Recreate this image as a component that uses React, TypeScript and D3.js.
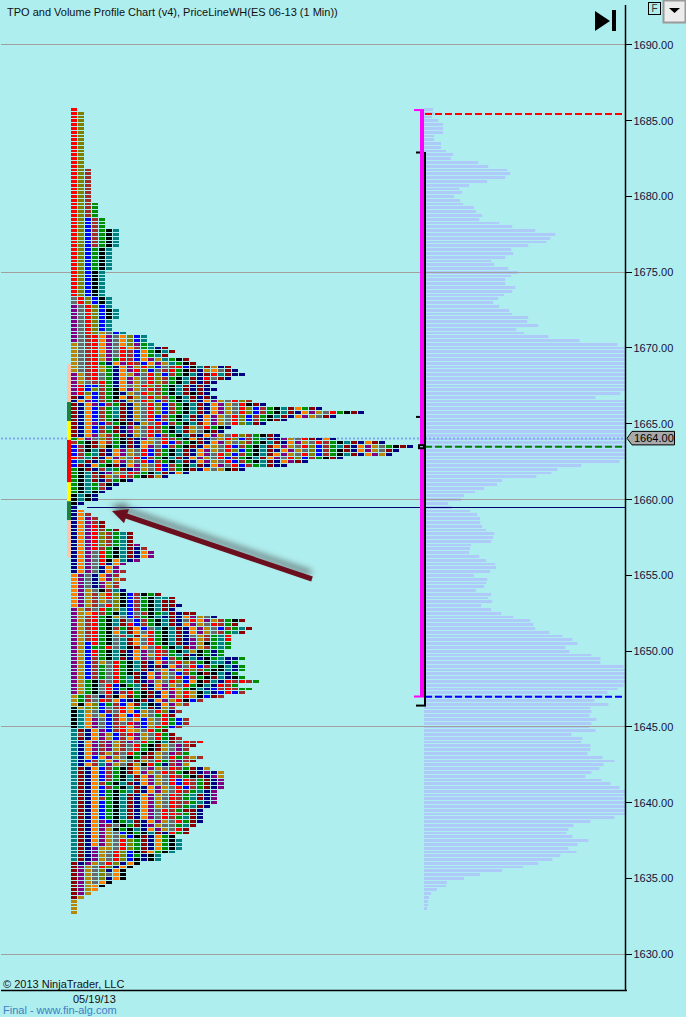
import * as d3 from 'd3';
import React, { useEffect, useRef } from 'react';

const priceTicks = [1690, 1685, 1680, 1675, 1670, 1665, 1660, 1655, 1650, 1645, 1640, 1635, 1630];
const gridPrices = [1690, 1675, 1660, 1645, 1630];
const topRowPrice = 1685.75;
const tickSize = 0.25;
const lastPrice = 1664;

// one letter per period, time order left to right
const periodColors: Record<string, string> = {
    m: '#8b0000',
    n: '#000080',
    a: '#ff8000',
    p: '#800080',
    d: '#b8860b',
    y: '#696969',
    r: '#ff0000',
    o: '#808000',
    u: '#0000ff',
    b: '#a52a2a',
    g: '#008f00',
    k: '#000000',
    t: '#008080',
};

// TPO letters, one string per price row from the top
const tpoRows = [
    'r', 'ro', 'ro', 'ro', 'ro', 'ro', 'ro', 'ro', 'ro', 'ro', 'ro', 'ro', 'ro', 'ro', 'ro', 'ro',
    'rob', 'rob', 'rob', 'rob', 'rob', 'rob', 'rob', 'rob', 'rob',
    'robg', 'robg', 'robg', 'robg',
    'roubg', 'roubg', 'roubg',
    'roubgkt', 'roubgkt', 'roubgkt', 'roubgkt', 'roubgkt',
    'rougkt', 'rougkt', 'rougkt', 'rougkt', 'rougkt', 'rougkt',
    'roukt', 'roukt', 'roukt', 'roukt', 'roukt', 'roukt', 'roukt',
    'yroukt', 'yroukt', 'pyrout', 'pyroukt', 'pyroukt', 'pyroukt', 'pyrout', 'pyrout', 'pyrout',
    'pyrodyut',
    'pybrapyaout',
    'pybrapyaout',
    'dybrapyaopgt',
    'dybrapyrabgtnm',
    'dybrapyrbuagktm',
    'dybrdpyrbuagtm',
    'dybrdpgrbuapdtgkm',
    'dybrgnaprbuapdtgkm',
    'dybrdgnapdrouybruktmdnm',
    'dybrdgnaprouybrgkmndaymn',
    'pdbrygnadpyroubgktnmrtmnn',
    'pdbrygnapdyrobgktmnrymn',
    'pdybrgnapdyrobgktmnmn',
    'pruubgnaydrobgktmnmn',
    'pruobgkapdyrbgktmnmnn',
    'proubgkndyrobgktmkmn',
    'mnaubgkamdyrobgktmnmn',
    'napubgmndyroubgktmnapdyrob',
    'mnapubgmndyroubgktmnapdyrkmn',
    'mnaubgtmndyroubgktmnapdyroubgktmagmn',
    'mnaubgtmndyroubgktmnapdyroubgktmnapdyrgkmn',
    'mnaubgtmndyrubgktmnapdyroubgktmnapdymn',
    'mnaubgkmndyrubgktmnapdyroubgkmn',
    'mnapubgkmndyrubgktmapdyrotmn',
    'mnaubtmnpdyrbgktmdyrgkn',
    'mnaubgmnpdyrbgktmdykmn',
    'mnapdbgmndyrubgktmnapdyrobgkmn',
    'gapyobgkmnpdyrbgkamnydroubgtmnpdyrmnan',
    'bgkmabgkmnadyrubgkmnapdyobgktmnapdyrbgktmnamn',
    'ubkmdkgnmnapyubgkmnadyrubgktmapdyroubgtmnapdygkmn',
    'ubktmnapdyrubgktmnapdyrougktmnapdyoubgkmnapdymn',
    'ubgtmnapdyrubgktmnapyroubgktmapdyroubgktmnapdn',
    'rbtmnapdyrubgktmnapdyrubgktmapyroubgkmn',
    'utmnbgapdyrubgktmnapdyrubgktmnapmn',
    'umnagkmnapdyrubgktmnapyrubgtmnn',
    'gkmnbtgmnpdyrubgkmnaydkmn',
    'gktmnpdyrbgktmnan',
    'gktbmdyrbgkmdn',
    'gktmnbgkn',
    'gktgbkn',
    'gktgbn',
    'gktkn',
    'ktkn',
    'ktkn',
    'kn',
    'n',
    'na',
    'nab',
    'napb',
    'napbm',
    'naprm',
    'naprbgm',
    'naprobgtm',
    'naprobgtm',
    'naprobgtm',
    'naprobgtmp',
    'naprbgktmnb',
    'napyrgktmnap',
    'napyrgktmnap',
    'napyrkatnp',
    'napyrnap',
    'napynap',
    'napynapb',
    'apynapb',
    'apynapdb',
    'apynpdb',
    'apynpdb',
    'apdykbtn',
    'apdbdrokubkgm',
    'apdbdrokubgkttm',
    'apdbdyokubgktmm',
    'apdbyrokubgktmmn',
    'pdbyrgotubgktmn',
    'pdarbgktuybkgtmnmm',
    'pdbrgkdyubgktnmnapdyn',
    'pdbrgktmyubgktmnyrapdbgkm',
    'pdbrgktmrubgktmnapdyrbgm',
    'pdbrgkbgmauytktmnapdyubgtm',
    'pdbrgkatmayrgktmnapdybgtm',
    'pdbrgkybtmabgktmnydbgtr',
    'pdbrgkytmayrgktmnpdbgtr',
    'pdurgkytmayrgktmnpdkgtg',
    'pduggrytkmayrgktmpdbgtg',
    'pdurgktmnapyrbgktdkgng',
    'pdurgktknapdrbgtmnkgng',
    'pdubgktmnapyrubgktnkgtnng',
    'pdubdyrgktmnapyrobgkttng',
    'pdubgyrgktmnmnapyrubgktng',
    'pdubgyrgktmnyapdrobgkktng',
    'pdubgyrgkmnapdyubgkmktng',
    'pdubgyrgtmnapdyrubgkmtnkg',
    'pdgkbyrgtmnpdyrouakmtnrbrbg',
    'pdgkyrukgtmnapdyrgktnrbg',
    'pdgkyrugktmnaprdgktnubrbgg',
    'pdgkyrnbrgkmnapdrdktnurub',
    'dgbynbkamgkmnapdrdkumb',
    'dgbyrbaunkmnapdrkub',
    'dkaougbuamtknapdb',
    'kdoouybragtmndb',
    'ktdyubyraudyronb',
    'ktaydubaurdygrm',
    'ktapyubayaudyrgub',
    'ktapyubyrpudyrgub',
    'ktapyubrapudrgub',
    'tmnapubradyrgm',
    'tbnapdubrpdyrgm',
    'tmnapdubapdyrgmb',
    'tnapbpdbpyrgktmyrbr',
    'tnapbpdbyrgkmdypbm',
    'tnapbpdbyrgkmdypb',
    'tnapbdbyrgkmdypbg',
    'tnauapdykgbmdyrgbdb',
    'tnubtapdymdyrgbpbm',
    'tnabtpdymdkrgnbpd',
    'tmnaubgkmaypdyrbgmnd',
    'tmnaubgkmapdyrbgkmnpnd',
    'tmnaubgktmapdyrbgkmnpd',
    'tmnaubgktmapdyrurbgmnp',
    'tmnabgktmnapdyrurbgmnp',
    'tmnaubgktmnapdyrubgmnp',
    'tmnaugkgtmnapdyrbgtnp',
    'tmnaugktmnapdyrbgtmnp',
    'tmnabgktmnapdyrbgtmnp',
    'tmnaugktmnapdyrbbgtnp',
    'tmnaugktmnapdyrbgtmn',
    'tmnaugktmnapyrbgmmn',
    'tmnaugktmnapyrrbgmn',
    'tmnaugktmnapyrbgtmn',
    'tmnapukgtmnapdyrgmn',
    'tmnapbykgmnpdyygtm',
    'tmnapdkgktnapdyrm',
    'tmnapdyukgktmnrgm',
    'tmnapdyoukmnagk',
    'tmnapdyrogmnagkt',
    'tmnapdyrogmnagkt',
    'tmnpddyrogmnagkt',
    'tmnpdyroukmagkt',
    'tmnpdyrougnkt',
    'tmnpdyrouknkt',
    'mnpdyronak',
    'mpdyronak',
    'mpdyonak',
    'mpdyoyak',
    'mpdyonak',
    'mpdyak',
    'mpdak',
    'mpda',
    'mpd',
    'md',
    'd', 'd', 'd', 'd',
];

// volume at each price row from the top
const volumeRows = [
    9, 10, 8, 14, 19, 19, 19, 10, 10, 17, 17, 22, 29, 27, 54, 64, 83, 86, 81, 63,
    45, 35, 38, 30, 36, 39, 50, 52, 58, 55, 75, 88, 111, 131, 126, 122, 104, 87, 89, 81,
    67, 70, 84, 94, 87, 81, 81, 91, 88, 80, 74, 69, 75, 85, 88, 104, 103, 114, 92, 100,
    124, 155, 193, 201, 201, 201, 201, 201, 201, 201, 201, 201, 201, 201, 201, 196, 171, 201, 201, 201,
    201, 201, 201, 201, 201, 201, 201, 201, 201, 201, 201, 201, 201, 195, 157, 133, 127, 112, 78, 73,
    60, 51, 40, 37, 24, 28, 46, 53, 56, 56, 58, 62, 70, 69, 67, 47, 46, 45, 55, 62,
    71, 72, 66, 50, 63, 62, 60, 52, 67, 64, 68, 57, 67, 77, 89, 106, 109, 111, 125, 138,
    148, 153, 141, 145, 167, 176, 176, 199, 201, 201, 201, 201, 199, 193, 183, 179, 170, 184, 166, 167,
    165, 172, 167, 165, 171, 147, 158, 157, 166, 166, 163, 178, 190, 179, 175, 167, 161, 177, 186, 195,
    201, 201, 199, 201, 201, 201, 201, 190, 166, 149, 144, 142, 148, 164, 153, 144, 152, 136, 128, 114,
    99, 78, 56, 40, 23, 22, 13, 7, 5, 4, 4, 3,
];

const sideBandPrices = [1668.9, 1666.4, 1665.15, 1663.9, 1661.1, 1659.85, 1658.6, 1656.15];
const sideBandColors = ['#ffc6ae', '#1f7f3c', '#ffff00', '#ff0000', '#ffff00', '#1f7f3c', '#ffc6ae'];

const profileHigh = 1685.7;
const profileLow = 1647;
const blackRangeHigh = 1682.9;
const blackRangeLow = 1646.4;
const innerTickPrice = 1665.45;
const vahPrice = 1685.4;
const pocPrice = 1663.45;
const valPrice = 1646.95;
const sessionLine = 1659.45;

const App: React.FC = () => {
    const svgRef = useRef<SVGSVGElement | null>(null);

    useEffect(() => {
        if (!svgRef.current) return;
        const svg = d3.select(svgRef.current);
        svg.selectAll('*').remove();

        const y = d3.scaleLinear().domain([1630, 1690]).range([953.6, 44.4]);
        const axisX = 625.5;
        const volumeX = d3.scaleLinear().domain([0, 201]).range([424, axisX]);
        const cellX = d3.scaleLinear().domain([0, 1]).range([71, 78]);
        const font = '"Liberation Sans", Arial, sans-serif';

        const rowPrice = (i: number) => topRowPrice - i * tickSize;
        const rowTop = (i: number) => Math.round(y(rowPrice(i)) - 0.8);
        const rowHeight = (i: number) => rowTop(i + 1) - rowTop(i) - 1;

        const defs = svg.append('defs');
        defs.append('filter')
            .attr('id', 'arrowShadow')
            .attr('x', '-20%')
            .attr('y', '-50%')
            .attr('width', '140%')
            .attr('height', '200%')
            .append('feGaussianBlur')
            .attr('stdDeviation', 3);

        svg.append('rect')
            .attr('width', 686)
            .attr('height', 1017)
            .attr('fill', '#afeeee');

        // volume profile
        svg.append('g')
            .selectAll('rect')
            .data(volumeRows)
            .join('rect')
            .attr('x', volumeX(0))
            .attr('y', (_, i) => rowTop(i))
            .attr('width', (d) => volumeX(d) - volumeX(0))
            .attr('height', (_, i) => rowHeight(i))
            .attr('fill', '#adcaf8');

        // price grid
        svg.append('g')
            .selectAll('line')
            .data(gridPrices)
            .join('line')
            .attr('x1', 1)
            .attr('x2', axisX)
            .attr('y1', (d) => Math.round(y(d)) + 0.5)
            .attr('y2', (d) => Math.round(y(d)) + 0.5)
            .attr('stroke', '#a29a9a')
            .attr('stroke-opacity', 0.95);

        // last price dotted line
        svg.append('line')
            .attr('x1', 1)
            .attr('x2', axisX)
            .attr('y1', y(lastPrice))
            .attr('y2', y(lastPrice))
            .attr('stroke', '#7ea9f2')
            .attr('stroke-width', 2)
            .attr('stroke-dasharray', '2 2');

        // side bands next to the TPO rows
        svg.append('g')
            .selectAll('rect')
            .data(sideBandColors)
            .join('rect')
            .attr('x', 67)
            .attr('y', (_, i) => y(sideBandPrices[i]))
            .attr('width', 4)
            .attr('height', (_, i) => y(sideBandPrices[i + 1]) - y(sideBandPrices[i]))
            .attr('fill', (d) => d);

        // TPO cells
        const rows = svg
            .append('g')
            .selectAll('g')
            .data(tpoRows)
            .join('g')
            .attr('transform', (_, i) => `translate(0,${rowTop(i)})`);
        rows.selectAll('rect')
            .data((d, i) => [...d].map((letter) => ({ letter, row: i })))
            .join('rect')
            .attr('x', (_, j) => cellX(j))
            .attr('width', 6)
            .attr('height', (d) => rowHeight(d.row))
            .attr('fill', (d) => periodColors[d.letter]);

        // session line
        svg.append('line')
            .attr('x1', 87)
            .attr('x2', axisX)
            .attr('y1', Math.round(y(sessionLine)) + 0.5)
            .attr('y2', Math.round(y(sessionLine)) + 0.5)
            .attr('stroke', '#000070');

        // value area dashes
        const dashes: [number, string][] = [
            [vahPrice, '#ff0000'],
            [pocPrice, '#008000'],
            [valPrice, '#0000ff'],
        ];
        svg.append('g')
            .selectAll('line')
            .data(dashes)
            .join('line')
            .attr('x1', 425)
            .attr('x2', 624)
            .attr('y1', (d) => y(d[0]))
            .attr('y2', (d) => y(d[0]))
            .attr('stroke', (d) => d[1])
            .attr('stroke-width', 2)
            .attr('stroke-dasharray', '7 3');

        // profile range bars
        const rangeG = svg.append('g');
        rangeG.append('rect')
            .attr('x', 420)
            .attr('y', y(profileHigh))
            .attr('width', 4)
            .attr('height', y(profileLow) - y(profileHigh))
            .attr('fill', '#ff00ff');
        [profileHigh, profileLow].forEach((p) => {
            rangeG.append('rect')
                .attr('x', 414)
                .attr('y', y(p) - 0.5)
                .attr('width', 10)
                .attr('height', 2)
                .attr('fill', '#ff00ff');
        });
        rangeG.append('rect')
            .attr('x', 424)
            .attr('y', y(blackRangeHigh))
            .attr('width', 2)
            .attr('height', y(blackRangeLow) - y(blackRangeHigh) + 1)
            .attr('fill', '#000');
        [blackRangeHigh, innerTickPrice].forEach((p) => {
            rangeG.append('rect')
                .attr('x', 416)
                .attr('y', y(p) - 0.5)
                .attr('width', 4)
                .attr('height', 2)
                .attr('fill', '#000');
        });
        rangeG.append('rect')
            .attr('x', 416)
            .attr('y', y(blackRangeLow) - 0.5)
            .attr('width', 10)
            .attr('height', 2)
            .attr('fill', '#000');
        rangeG.append('rect')
            .attr('x', 419)
            .attr('y', y(pocPrice) - 1.5)
            .attr('width', 5)
            .attr('height', 3)
            .attr('fill', '#afeeee')
            .attr('stroke', '#000')
            .attr('stroke-width', 2);

        // arrow annotation
        const arrowPath =
            'M312.8,576.6 L127.3,513.6 L129,509.3 L112,511 L124,523.3 L125.7,518.4 L311.2,581.4 Z';
        svg.append('path')
            .attr('d', arrowPath)
            .attr('fill', '#4a4a4a')
            .attr('opacity', 0.7)
            .attr('transform', 'translate(-1,-6)')
            .attr('filter', 'url(#arrowShadow)');
        svg.append('path').attr('d', arrowPath).attr('fill', '#6b0f1e');

        // price axis
        svg.append('line')
            .attr('x1', axisX)
            .attr('x2', axisX)
            .attr('y1', 5)
            .attr('y2', 991)
            .attr('stroke', '#000')
            .attr('stroke-width', 1.5);
        svg.append('line')
            .attr('x1', 1)
            .attr('x2', 627)
            .attr('y1', 990.5)
            .attr('y2', 990.5)
            .attr('stroke', '#000')
            .attr('stroke-width', 1.5);

        const ticks = svg.append('g').selectAll('g').data(priceTicks).join('g');
        ticks.append('line')
            .attr('x1', axisX)
            .attr('x2', 632)
            .attr('y1', (d) => Math.round(y(d)) + 0.5)
            .attr('y2', (d) => Math.round(y(d)) + 0.5)
            .attr('stroke', '#000');
        ticks.append('text')
            .attr('x', 633.5)
            .attr('y', (d) => y(d) + 4.5)
            .attr('font-family', font)
            .attr('font-size', 11)
            .attr('fill', '#15103a')
            .text((d) => d3.format('.2f')(d));

        // last price tag
        const tagY = y(lastPrice);
        svg.append('polygon')
            .attr('points', `627,${tagY} 632,${tagY - 7} 674.5,${tagY - 7} 674.5,${tagY + 6.5} 632,${tagY + 6.5}`)
            .attr('fill', '#a9a9a9')
            .attr('stroke', '#000');
        svg.append('text')
            .attr('x', 634)
            .attr('y', tagY + 4)
            .attr('font-family', font)
            .attr('font-size', 11)
            .attr('fill', '#000')
            .text(d3.format('.2f')(lastPrice));

        // title and footer text
        const label = (text: string, x: number, yPos: number, fill = '#111', size = 11) =>
            svg.append('text')
                .attr('x', x)
                .attr('y', yPos)
                .attr('font-family', font)
                .attr('font-size', size)
                .attr('fill', fill)
                .text(text);
        label('TPO and Volume Profile Chart (v4), PriceLineWH(ES 06-13 (1 Min))', 7, 16);
        label('© 2013 NinjaTrader, LLC', 3, 988);
        label('05/19/13', 73, 1003);
        label('Final - www.fin-alg.com', 3, 1014, '#3c7fc4', 11);

        // skip to end button
        svg.append('polygon').attr('points', '595,11 595,31 610,21').attr('fill', '#000');
        svg.append('rect').attr('x', 612).attr('y', 10).attr('width', 4).attr('height', 21).attr('fill', '#000');

        // F box
        svg.append('rect')
            .attr('x', 648.5)
            .attr('y', 2.5)
            .attr('width', 12)
            .attr('height', 12)
            .attr('fill', 'none')
            .attr('stroke', '#000');
        label('F', 651.5, 12, '#333', 10);

        // drop down button
        svg.append('rect')
            .attr('x', 663.5)
            .attr('y', 0.5)
            .attr('width', 22)
            .attr('height', 22)
            .attr('fill', '#ececec')
            .attr('stroke', '#9a9a9a')
            .attr('stroke-width', 2);
        svg.append('polygon').attr('points', '669,8 680,8 674.5,13').attr('fill', '#000');
    }, []);

    return (
        <svg
            ref={svgRef}
            width={686}
            height={1017}
            style={{ position: 'absolute', left: 0, top: 0, display: 'block' }}
        />
    );
};

export default App;
